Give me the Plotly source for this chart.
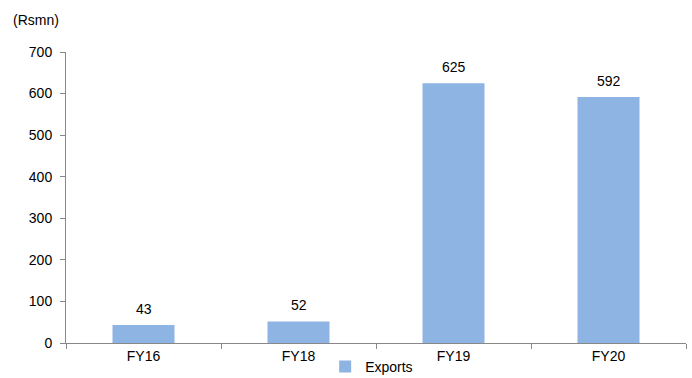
import plotly.graph_objects as go

categories = ["FY16", "FY18", "FY19", "FY20"]
exports = [43, 52, 625, 592]
y_ticks = [0, 100, 200, 300, 400, 500, 600, 700]

FONT = "Liberation Sans, Arial"

fig = go.Figure()
fig.add_trace(go.Bar(
    x=categories, y=exports, name="Exports",
    marker=dict(color="#8EB4E3", line=dict(width=0)),
    width=0.4,
))
for c, v in zip(categories, exports):
    fig.add_annotation(x=c, y=v, text=str(v), showarrow=False, yanchor="bottom",
                       yshift=6, font=dict(family=FONT, size=14, color="#000000"))
fig.update_layout(
    width=692, height=378,
    margin=dict(l=66, r=6, t=52, b=35, autoexpand=False),
    plot_bgcolor="white", paper_bgcolor="white",
    font=dict(family=FONT, size=14, color="#000000"),
    showlegend=True,
    legend=dict(orientation="h", x=0.493, xanchor="center", xref="paper",
                yref="container", y=0.072, yanchor="top",
                font=dict(size=14), itemwidth=30, bgcolor="rgba(0,0,0,0)"),
    xaxis=dict(type="category", showline=True, linecolor="#888888", linewidth=1,
               ticks="outside", tickson="boundaries", ticklen=5, tickcolor="#888888",
               showgrid=False, automargin=False),
    yaxis=dict(range=[0, 700], tickvals=y_ticks, showline=True, linecolor="#888888",
               linewidth=1, ticks="outside", ticklen=5, tickcolor="#888888",
               showgrid=False, zeroline=False, automargin=False, ticklabelstandoff=5),
)
fig.add_annotation(text="(Rsmn)", xref="paper", yref="paper", x=-0.088, y=1.11,
                   xanchor="left", yanchor="middle", showarrow=False,
                   font=dict(size=14))
fig.write_html("out.html")
